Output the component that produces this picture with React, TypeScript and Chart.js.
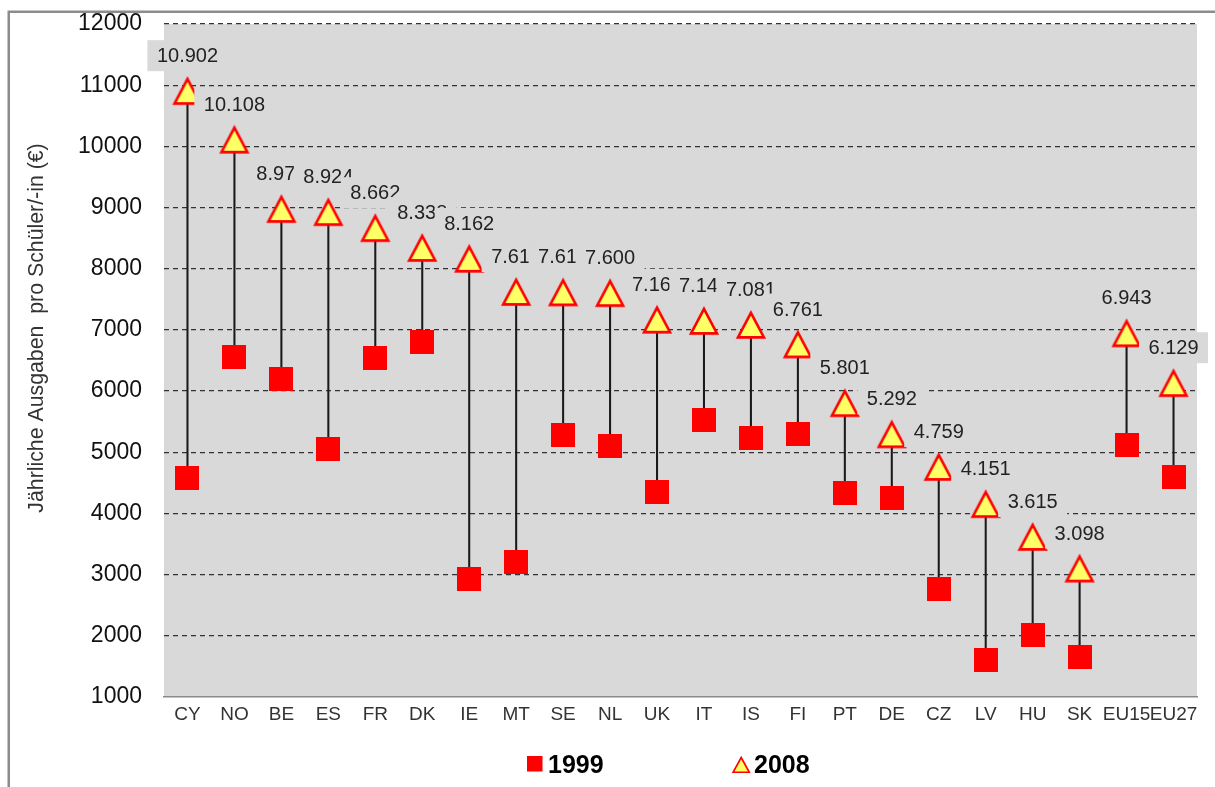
import React, { useEffect, useRef } from "react";
import { Chart, registerables } from "chart.js";

Chart.register(...registerables);

// Country codes along the x axis
const countries = [
  "CY", "NO", "BE", "ES", "FR", "DK", "IE", "MT", "SE", "NL", "UK",
  "IT", "IS", "FI", "PT", "DE", "CZ", "LV", "HU", "SK", "EU15", "EU27",
];

// Annual spending per pupil (EUR), 1999
const spend1999 = [
  4584, 6563, 6202, 5051, 6541, 6798, 2930, 3200, 5280, 5095, 4358,
  5534, 5236, 5302, 4335, 4253, 2763, 1606, 2010, 1649, 5116, 4592,
];

// Annual spending per pupil (EUR), 2008
const spend2008 = [
  10902, 10108, 8975, 8924, 8662, 8338, 8162, 7619, 7612, 7600, 7166,
  7145, 7081, 6761, 5801, 5292, 4759, 4151, 3615, 3098, 6943, 6129,
];

const seriesNames = ["1999", "2008"];
const yMin = 1000;
const yMax = 12000;
const yStep = 1000;
const yTitle = "Jährliche Ausgaben  pro Schüler/-in (€)";

const FONT = "'Liberation Sans', Arial, Helvetica, sans-serif";
const PLOT_BG = "#d9d9d9";
const RED = "#ff0000";
const YELLOW = "#ffff66";

// German number format: 10902 -> "10.902"
const fmtDE = (v: number) =>
  `${Math.floor(v / 1000)}.${String(v % 1000).padStart(3, "0")}`;

function makeSquare(size: number) {
  const c = document.createElement("canvas");
  c.width = size;
  c.height = size;
  const g = c.getContext("2d")!;
  g.fillStyle = RED;
  g.fillRect(0, 0, size, size);
  return c;
}

function makeTriangle() {
  const c = document.createElement("canvas");
  c.width = 32;
  c.height = 32;
  const g = c.getContext("2d")!;
  g.beginPath();
  g.moveTo(16, 3.8);
  g.lineTo(29.0, 28.4);
  g.lineTo(3.0, 28.4);
  g.closePath();
  g.fillStyle = YELLOW;
  g.fill();
  g.lineWidth = 2.6;
  g.strokeStyle = RED;
  g.lineJoin = "miter";
  g.stroke();
  return c;
}

// Frame and grey plot background
const backgroundPlugin = {
  id: "plotBackground",
  beforeDraw(chart: any) {
    const { ctx, chartArea } = chart;
    ctx.save();
    ctx.fillStyle = "#ffffff";
    ctx.fillRect(0, 0, chart.width, chart.height);
    ctx.fillStyle = PLOT_BG;
    ctx.fillRect(
      chartArea.left,
      chartArea.top,
      chartArea.right - chartArea.left,
      chartArea.bottom - chartArea.top
    );
    ctx.strokeStyle = "#8c8c8c";
    ctx.lineWidth = 2.5;
    ctx.strokeRect(8.75, 11.75, chart.width + 40, chart.height + 40);
    ctx.restore();
  },
};

// Value labels above the 2008 markers, each on a grey box
const valueLabelPlugin = {
  id: "valueLabels",
  afterDatasetsDraw(chart: any) {
    const { ctx } = chart;
    const idx = chart.data.datasets.findIndex((d: any) => d.label === seriesNames[1]);
    const meta = chart.getDatasetMeta(idx);
    ctx.save();
    ctx.font = `20px ${FONT}`;
    ctx.textAlign = "center";
    ctx.textBaseline = "middle";
    meta.data.forEach((el: any, i: number) => {
      const text = fmtDE(spend2008[i]);
      const w = ctx.measureText(text).width;
      const cx = el.x;
      const cy = el.y - 35.5;
      ctx.fillStyle = PLOT_BG;
      ctx.fillRect(cx - w / 2 - 9.5, cy - 15.5, w + 19, 31);
      ctx.fillStyle = "#222222";
      ctx.fillText(text, cx, cy + 1);
    });
    ctx.restore();
  },
};

// Rotated y-axis title and the legend row below the axis
const decorPlugin = {
  id: "decor",
  afterDraw(chart: any) {
    const { ctx } = chart;
    ctx.save();
    ctx.translate(42.5, 328);
    ctx.rotate(-Math.PI / 2);
    ctx.font = `21.3px ${FONT}`;
    ctx.fillStyle = "#333333";
    ctx.textAlign = "center";
    ctx.textBaseline = "alphabetic";
    ctx.fillText(yTitle, 0, 0);
    ctx.restore();

    ctx.save();
    ctx.font = `bold 25px ${FONT}`;
    ctx.textBaseline = "alphabetic";
    ctx.textAlign = "left";
    // 1999 entry
    ctx.fillStyle = RED;
    ctx.fillRect(527, 756, 15.5, 15.5);
    ctx.fillStyle = "#000000";
    ctx.fillText(seriesNames[0], 548, 773);
    // 2008 entry
    ctx.beginPath();
    ctx.moveTo(741.2, 757.5);
    ctx.lineTo(749.3, 772.3);
    ctx.lineTo(733.1, 772.3);
    ctx.closePath();
    ctx.fillStyle = YELLOW;
    ctx.fill();
    ctx.lineWidth = 1.6;
    ctx.strokeStyle = RED;
    ctx.stroke();
    ctx.fillStyle = "#000000";
    ctx.fillText(seriesNames[1], 754, 773);
    ctx.restore();
  },
};

export default function App() {
  const canvasRef = useRef<HTMLCanvasElement | null>(null);

  useEffect(() => {
    if (!canvasRef.current) return;
    const square = makeSquare(24);
    const triangle = makeTriangle();

    const chart = new Chart(canvasRef.current, {
      type: "bar",
      data: {
        labels: countries,
        datasets: [
          {
            type: "line",
            label: seriesNames[1],
            data: spend2008,
            showLine: false,
            pointStyle: triangle as any,
            pointRadius: 12,
            pointHoverRadius: 12,
            clip: false as any,
            order: 0,
          },
          {
            type: "line",
            label: seriesNames[0],
            data: spend1999,
            showLine: false,
            pointStyle: square as any,
            pointRadius: 12,
            pointHoverRadius: 12,
            clip: false as any,
            order: 1,
          },
          {
            type: "bar",
            label: "range",
            data: countries.map((_, i) => [spend1999[i], spend2008[i]]) as any,
            backgroundColor: "#1a1a1a",
            borderWidth: 0,
            barThickness: 1.4,
            order: 2,
          },
        ],
      },
      options: {
        responsive: false,
        animation: false,
        events: [],
        layout: { padding: { top: 24, right: 18, bottom: 0, left: 0 } },
        plugins: {
          legend: { display: false },
          tooltip: { enabled: false },
          title: { display: false },
        },
        scales: {
          x: {
            type: "category",
            offset: true,
            grid: { display: false, drawTicks: false },
            border: { display: true, color: "#8a8a8a", width: 1.5 },
            ticks: {
              color: "#333333",
              font: { family: FONT, size: 19 },
              padding: 6,
              maxRotation: 0,
              autoSkip: false,
            },
            afterFit: (scale: any) => {
              scale.height = 90;
              scale.paddingLeft = 0;
              scale.paddingRight = 0;
            },
          },
          y: {
            type: "linear",
            min: yMin,
            max: yMax,
            ticks: {
              stepSize: yStep,
              color: "#111111",
              font: { family: FONT, size: 23 },
              padding: 22,
              callback: (v: any) => String(v),
            },
            grid: {
              drawTicks: false,
              lineWidth: 1.2,
              color: (c: any) =>
                c.tick && c.tick.value === yMin ? "rgba(0,0,0,0)" : "#333333",
            },
            border: { display: false, dash: [5, 4] },
            afterFit: (scale: any) => {
              scale.width = 164;
              scale.paddingTop = 0;
              scale.paddingBottom = 0;
            },
          },
        },
      },
      plugins: [backgroundPlugin, valueLabelPlugin, decorPlugin],
    });

    return () => chart.destroy();
  }, []);

  return (
    <div
      style={{
        position: "fixed",
        left: 0,
        top: 0,
        width: 1215,
        height: 787,
        overflow: "hidden",
        background: "#ffffff",
      }}
    >
      <canvas
        ref={canvasRef}
        width={1215}
        height={787}
        style={{ width: 1215, height: 787, display: "block" }}
      />
    </div>
  );
}
